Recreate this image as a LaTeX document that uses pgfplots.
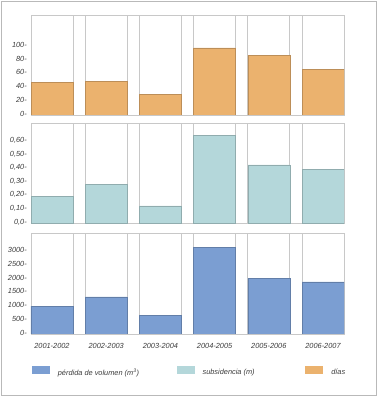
\documentclass[border=0pt]{standalone}
\usepackage{pgfplots}
\pgfplotsset{compat=1.18}
\usepackage{fontspec}
\setmainfont{Liberation Sans}
\definecolor{cOr}{HTML}{EBB26E}
\definecolor{cCy}{HTML}{B4D7DA}
\definecolor{cBl}{HTML}{7B9ED2}
\definecolor{gridc}{HTML}{C8C8C8}
\definecolor{txt}{HTML}{3C3C3C}
\newcommand{\lfont}{\fontsize{7.4}{8}\selectfont\itshape}
\pgfplotsset{
 panel/.style={
  scale only axis, width=313bp, anchor=south west,
  xmin=-0.387, xmax=5.387, ymin=0,
  axis line style={gridc, line width=0.8bp},
  xtick=\empty,
  major tick length=0pt,
  yticklabel style={font=\lfont, text=txt, anchor=east, inner sep=0pt, xshift=-4bp, yshift=1.5bp},
  extra x ticks={0.387,0.613,1.387,1.613,2.387,2.613,3.387,3.613,4.387,4.613},
  extra x tick labels={},
  extra x tick style={grid=major, major grid style={gridc, line width=0.8bp}, major tick length=0pt},
  ybar, bar width=42bp,
 }
}
\begin{document}
\begin{tikzpicture}
\path[use as bounding box] (0,0) rectangle (379bp,397bp);
\draw[gray!55, line width=0.8bp] (1.5bp,1.5bp) rectangle (376.5bp,395.5bp);

% top panel: dias
\begin{axis}[panel, at={(31bp,282bp)}, height=100bp, ymax=146,
  ytick={0,20,40,60,80,100}, yticklabels={0-,20-,40-,60-,80-,100-}]
\addplot[fill=cOr, draw=cOr!80!black, line width=0.4bp, bar shift=0pt] coordinates {(0,48) (1,49) (2,30) (3,98) (4,87) (5,67)};
\end{axis}

% middle panel: subsidencia
\begin{axis}[panel, at={(31bp,173.5bp)}, height=100bp, ymax=0.735,
  ytick={0,0.1,0.2,0.3,0.4,0.5,0.6}, yticklabels={{0,0-},{0,10-},{0,20-},{0,30-},{0,40-},{0,50-},{0,60-}}]
\addplot[fill=cCy, draw=cCy!80!black, line width=0.4bp, bar shift=0pt] coordinates {(0,0.20) (1,0.29) (2,0.13) (3,0.65) (4,0.43) (5,0.40)};
\end{axis}

% bottom panel: perdida de volumen
\begin{axis}[panel, at={(31bp,63bp)}, height=101bp, ymax=3675,
  ytick={0,500,1000,1500,2000,2500,3000}, yticklabels={0-,500-,1000-,1500-,2000-,2500-,3000-},
  xtick={0,1,2,3,4,5},
  xticklabels={2001-2002,2002-2003,2003-2004,2004-2005,2005-2006,2006-2007},
  xticklabel style={font=\lfont, text=txt, anchor=north, inner sep=0pt, yshift=-9bp},
  legend columns=3,
  legend image code/.code={\fill[#1, draw=none] (0bp,-1.5bp) rectangle (18bp,6.5bp);},
  legend style={draw=none, fill=none, inner sep=0pt, at={(axis description cs:0,0)}, anchor=west, xshift=0.7bp, yshift=-37.7bp,
    nodes={inner sep=0pt, font=\lfont, text=txt},
    /tikz/every odd column/.append style={column sep=8bp}},
]
\addplot[fill=cBl, draw=cBl!80!black, line width=0.4bp, bar shift=0pt] coordinates {(0,1010) (1,1350) (2,670) (3,3150) (4,2020) (5,1900)};
\addlegendentry{\makebox[118.7bp][l]{pérdida de volumen (m\textsuperscript{3})}}
\addlegendimage{fill=cCy}
\addlegendentry{\makebox[102.7bp][l]{subsidencia (m)}}
\addlegendimage{fill=cOr}
\addlegendentry{días}
\end{axis}
\end{tikzpicture}
\end{document}
